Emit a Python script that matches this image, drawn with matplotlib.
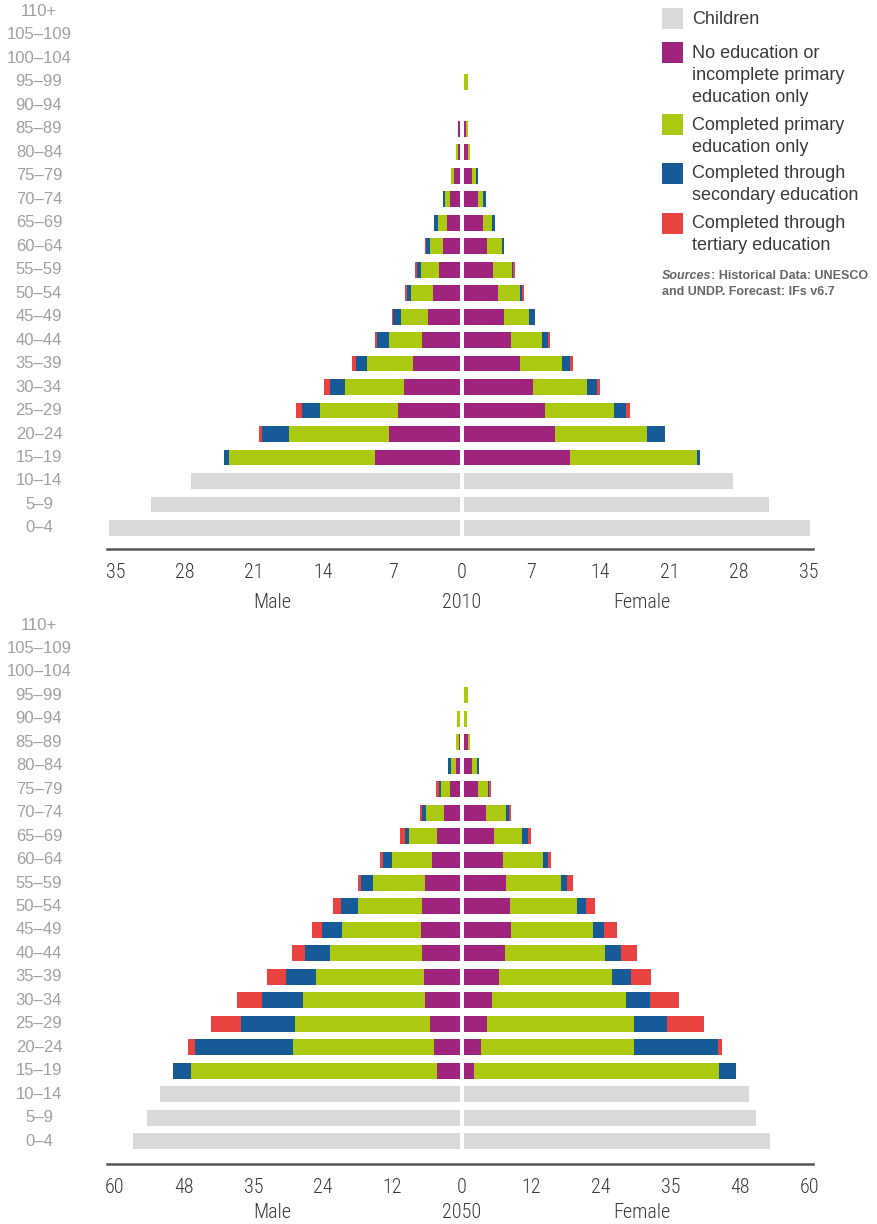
import matplotlib
matplotlib.use('Agg')
import matplotlib.pyplot as plt
from matplotlib.patches import Rectangle
from matplotlib import font_manager as fm
from matplotlib.transforms import blended_transform_factory

# ---------------- data ----------------
age_groups = ['0–4', '5–9', '10–14', '15–19', '20–24', '25–29', '30–34', '35–39',
              '40–44', '45–49', '50–54', '55–59', '60–64', '65–69', '70–74', '75–79',
              '80–84', '85–89', '90–94', '95–99', '100–104', '105–109', '110+']

legend_labels = ['Children',
                 'No education or\nincomplete primary\neducation only',
                 'Completed primary\neducation only',
                 'Completed through\nsecondary education',
                 'Completed through\ntertiary education']
colors = ['#d9d9d9', '#a0237e', '#acc912', '#175a98', '#e84340']

# 2010 (children: ages 0-4, 5-9, 10-14; adult arrays: ages 15-19 ... 110+)
male_2010_children = [35.5, 31.2, 27.2]
female_2010_children = [34.9, 30.8, 27.2]
male_2010_none = [8.6, 7.2, 6.3, 5.7, 4.7, 3.8, 3.2, 2.7, 2.1, 1.7, 1.3, 1.0, 0.6, 0.2, 0.2, 0, 0, 0, 0, 0]
male_2010_primary = [14.7, 10.1, 7.8, 5.9, 4.7, 3.4, 2.8, 2.2, 1.8, 1.3, 0.9, 0.5, 0.3, 0.2, 0, 0, 0, 0, 0, 0]
male_2010_secondary = [0.5, 2.7, 1.9, 1.5, 1.1, 1.2, 0.8, 0.5, 0.4, 0.4, 0.4, 0.2, 0, 0, 0, 0, 0, 0, 0, 0]
male_2010_tertiary = [0, 0.3, 0.6, 0.6, 0.4, 0.2, 0.1, 0.2, 0.2, 0.1, 0, 0, 0, 0, 0, 0, 0, 0, 0, 0]
female_2010_none = [10.7, 9.2, 8.2, 7.0, 5.7, 4.7, 4.0, 3.4, 2.9, 2.3, 1.9, 1.4, 0.8, 0.4, 0.2, 0, 0, 0, 0, 0]
female_2010_primary = [12.8, 9.3, 7.0, 5.4, 4.2, 3.2, 2.6, 2.3, 1.9, 1.5, 0.9, 0.5, 0.4, 0.2, 0.2, 0, 0.4, 0, 0, 0]
female_2010_secondary = [0.3, 1.8, 1.2, 1.0, 0.8, 0.6, 0.6, 0.2, 0.1, 0.2, 0.3, 0.3, 0.2, 0, 0, 0, 0, 0, 0, 0]
female_2010_tertiary = [0, 0, 0.4, 0.3, 0.3, 0.2, 0, 0.2, 0.3, 0, 0, 0, 0, 0, 0, 0, 0, 0, 0, 0]

# 2050
male_2050_children = [56.5, 54.1, 51.8]
female_2050_children = [52.8, 50.4, 49.2]
male_2050_none = [4.0, 4.5, 5.2, 6.0, 6.2, 6.6, 6.7, 6.6, 6.0, 4.8, 4.0, 2.8, 1.7, 0.7, 0.2, 0, 0, 0, 0, 0]
male_2050_primary = [42.5, 24.4, 23.3, 21.1, 18.7, 15.9, 13.6, 11.1, 9.0, 6.9, 4.8, 3.1, 1.6, 0.9, 0.5, 0.5, 0, 0, 0, 0]
male_2050_secondary = [3.1, 16.8, 9.3, 7.1, 5.2, 4.3, 3.6, 2.9, 2.1, 1.6, 0.7, 0.7, 0.3, 0.5, 0, 0, 0, 0, 0, 0]
male_2050_tertiary = [0, 1.2, 5.2, 4.3, 3.3, 2.2, 1.6, 1.4, 0.5, 0.5, 0.9, 0.3, 0.5, 0, 0, 0, 0, 0, 0, 0]
female_2050_none = [1.7, 2.9, 4.0, 4.8, 6.0, 7.1, 8.1, 7.9, 7.3, 6.7, 5.2, 3.8, 2.4, 1.4, 0.7, 0, 0, 0, 0, 0]
female_2050_primary = [42.3, 26.4, 25.4, 23.1, 19.5, 17.3, 14.2, 11.6, 9.5, 6.9, 4.8, 3.5, 1.7, 0.9, 0.3, 0.5, 0.7, 0, 0, 0]
female_2050_secondary = [2.9, 14.5, 5.7, 4.3, 3.3, 2.8, 1.9, 1.6, 1.0, 0.9, 1.0, 0.5, 0.3, 0.3, 0, 0, 0, 0, 0, 0]
female_2050_tertiary = [0, 0.7, 6.4, 5.0, 3.5, 2.6, 2.2, 1.6, 1.0, 0.5, 0.5, 0.3, 0.3, 0, 0, 0, 0, 0, 0, 0]

ticks_2010 = [-35, -28, -21, -14, -7, 0, 7, 14, 21, 28, 35]
ticklabels_2010 = ['35', '28', '21', '14', '7', '0', '7', '14', '21', '28', '35']
ticks_2050 = [-60, -48, -36, -24, -12, 0, 12, 24, 36, 48, 60]
ticklabels_2050 = ['60', '48', '35', '24', '12', '0', '12', '24', '35', '48', '60']

# ---------------- fonts ----------------
base_font = 'Liberation Sans'
names = {f.name for f in fm.fontManager.ttflist}
cond_font = dict(family=base_font, size=13)
if 'Roboto Condensed' in names:
    cond_font = dict(family='Roboto Condensed', size=14.5, weight='light')
elif 'Liberation Sans Narrow' in names:
    cond_font = dict(family='Liberation Sans Narrow', size=15.5)
elif 'DejaVu Sans Condensed' in names:
    cond_font = dict(family='DejaVu Sans Condensed', size=13)
elif any(f.name == 'DejaVu Sans' and f.stretch == 'condensed' for f in fm.fontManager.ttflist):
    cond_font = dict(family='DejaVu Sans', stretch='condensed', size=13)

plt.rcParams['font.family'] = [base_font, 'DejaVu Sans']

W, H = 878, 1224
fig = plt.figure(figsize=(W / 100, H / 100), dpi=100)


def fx(x):
    return x / W


def fy(y):
    return 1 - y / H


text_dark = '#3a3a3a'
age_color = '#a0a0a0'
bar_h = 0.68


def draw_panel(rect, px_per_unit, children, male_edu, female_edu, ticks, ticklabels,
               year, ylim, label_y):
    left, top, right, bottom = rect
    ax = fig.add_axes([fx(left), fy(bottom), fx(right) - fx(left), fy(top) - fy(bottom)])
    center = 462
    gap = 2 / px_per_unit
    ax.set_xlim(-(center - left) / px_per_unit, (right - center) / px_per_unit)
    ax.set_ylim(*ylim)

    m_child, f_child = children
    yc = list(range(len(m_child)))
    ax.barh(yc, [-v for v in m_child], left=-gap, height=bar_h, color=colors[0], linewidth=0)
    ax.barh(yc, f_child, left=gap, height=bar_h, color=colors[0], linewidth=0)

    ya = list(range(len(m_child), len(age_groups)))
    lm = [-gap] * len(ya)
    for arr, col in zip(male_edu, colors[1:]):
        ax.barh(ya, [-v for v in arr], left=lm, height=bar_h, color=col, linewidth=0)
        lm = [l - v for l, v in zip(lm, arr)]
    lf = [gap] * len(ya)
    for arr, col in zip(female_edu, colors[1:]):
        ax.barh(ya, arr, left=lf, height=bar_h, color=col, linewidth=0)
        lf = [l + v for l, v in zip(lf, arr)]

    for s in ['top', 'left', 'right']:
        ax.spines[s].set_visible(False)
    ax.spines['bottom'].set_color('#555555')
    ax.spines['bottom'].set_linewidth(1.8)
    ax.set_yticks([])
    ax.set_xticks(ticks)
    ax.set_xticklabels(ticklabels, color=text_dark, **cond_font)
    ax.tick_params(axis='x', length=0, pad=10)

    trans = blended_transform_factory(fig.transFigure, ax.transData)
    for i, lab in enumerate(age_groups):
        ax.text(fx(39), i, lab, transform=trans, ha='center', va='center',
                fontsize=12, color=age_color, family=base_font)

    for x, t in [(272, 'Male'), (462, year), (642, 'Female')]:
        fig.text(fx(x), fy(label_y), t, ha='center', va='center', color=text_dark, **cond_font)
    return ax


draw_panel((107, 0, 813, 549), 9.9,
           (male_2010_children, female_2010_children),
           [male_2010_none, male_2010_primary, male_2010_secondary, male_2010_tertiary],
           [female_2010_none, female_2010_primary, female_2010_secondary, female_2010_tertiary],
           ticks_2010, ticklabels_2010, '2010', (-0.894, 22.47), 602)

draw_panel((107, 610, 813, 1164), 5.79,
           (male_2050_children, female_2050_children),
           [male_2050_none, male_2050_primary, male_2050_secondary, male_2050_tertiary],
           [female_2050_none, female_2050_primary, female_2050_secondary, female_2050_tertiary],
           ticks_2050, ticklabels_2050, '2050', (-0.98, 22.64), 1213)

# ---------------- legend ----------------
square_tops = [8, 42, 114, 163, 213]
for top, lab, col in zip(square_tops, legend_labels, colors):
    fig.patches.append(Rectangle((fx(662), fy(top + 21)), fx(21), 21 / H,
                                 transform=fig.transFigure, color=col, linewidth=0))
    for k, line in enumerate(lab.split('\n')):
        fig.text(fx(692), fy(top + 11 + 22 * k), line, ha='left', va='center',
                 fontsize=13, color=text_dark, family=base_font)

t1 = fig.text(fx(662), fy(276), 'Sources', ha='left', va='center', fontsize=9,
              fontweight='bold', style='italic', color='#666666', family=base_font)
plt.annotate(': Historical Data: UNESCO', xy=(1, 0), xycoords=t1, ha='left', va='bottom',
             fontsize=9, fontweight='bold', color='#666666', family=base_font,
             annotation_clip=False)
fig.text(fx(662), fy(292), 'and UNDP. Forecast: IFs v6.7', ha='left', va='center',
         fontsize=9, fontweight='bold', color='#666666', family=base_font)

fig.savefig('out.png', dpi=100)
